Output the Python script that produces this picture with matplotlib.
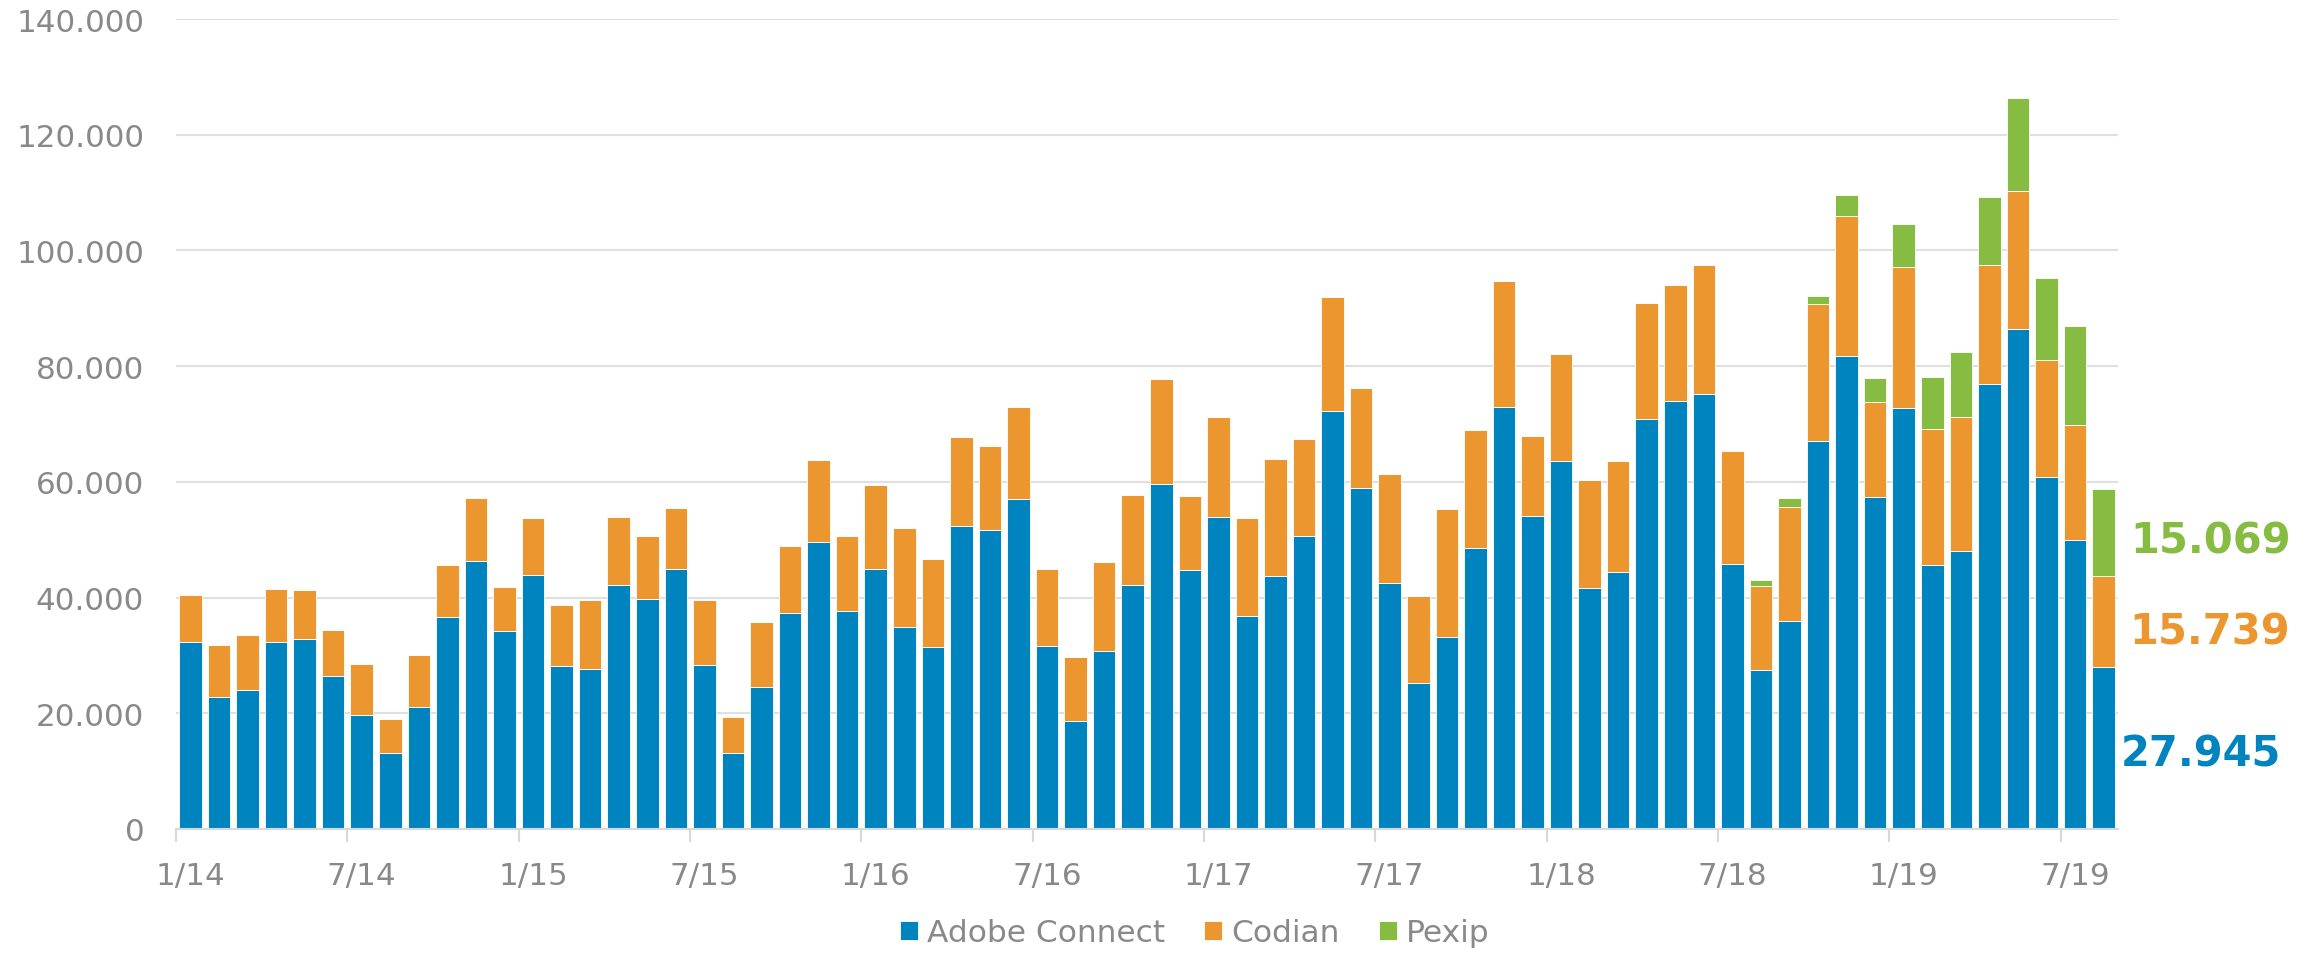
import matplotlib
matplotlib.use("Agg")
import matplotlib.pyplot as plt
import numpy as np
from matplotlib.ticker import FuncFormatter

# monatliche Nutzung 1/14 - 8/19 (Tausend)
adobe = [32.4, 22.8, 24.0, 32.4, 32.8, 26.4, 19.7, 13.2, 21.0, 36.6, 46.3, 34.3,
         43.9, 28.1, 27.7, 42.1, 39.7, 45.0, 28.3, 13.2, 24.5, 37.3, 49.6, 37.7,
         45.0, 34.9, 31.5, 52.4, 51.7, 57.1, 31.6, 18.6, 30.8, 42.1, 59.6, 44.8,
         54.0, 36.8, 43.8, 50.7, 72.2, 58.9, 42.6, 25.3, 33.1, 48.6, 72.9, 54.1,
         63.6, 41.7, 44.5, 70.9, 74.0, 75.2, 45.8, 27.5, 35.9, 67.1, 81.8, 57.3,
         72.8, 45.7, 48.1, 76.9, 86.5, 60.9, 49.9, 27.945]
codian = [8.1, 9.0, 9.6, 9.1, 8.5, 8.0, 8.9, 5.8, 9.0, 9.0, 10.9, 7.5,
          9.8, 10.7, 11.9, 11.8, 11.0, 10.4, 11.3, 6.2, 11.2, 11.6, 14.2, 12.9,
          14.5, 17.2, 15.1, 15.3, 14.5, 15.9, 13.3, 11.2, 15.4, 15.6, 18.2, 12.8,
          17.2, 16.9, 20.1, 16.7, 19.7, 17.3, 18.8, 15.0, 22.2, 20.3, 21.9, 13.9,
          18.5, 18.7, 19.1, 20.0, 20.1, 22.2, 19.5, 14.5, 19.8, 23.6, 24.1, 16.5,
          24.3, 23.5, 23.1, 20.6, 23.8, 20.2, 20.0, 15.739]
pexip = [0, 0, 0, 0, 0, 0, 0, 0, 0, 0, 0, 0,
         0, 0, 0, 0, 0, 0, 0, 0, 0, 0, 0, 0,
         0, 0, 0, 0, 0, 0, 0, 0, 0, 0, 0, 0,
         0, 0, 0, 0, 0, 0, 0, 0, 0, 0, 0, 0,
         0, 0, 0, 0, 0, 0, 0, 1.1, 1.5, 1.5, 3.6, 4.2,
         7.5, 8.9, 11.3, 11.8, 16.0, 14.2, 17.1, 15.069]
tick_labels = ["1/14", "7/14", "1/15", "7/15", "1/16", "7/16",
               "1/17", "7/17", "1/18", "7/18", "1/19", "7/19"]
series_names = ["Adobe Connect", "Codian", "Pexip"]

blue = "#0084BF"
orange = "#EB962F"
green = "#86BC41"
grey = "#898989"

a = np.array(adobe) * 1000
c = np.array(codian) * 1000
p = np.array(pexip) * 1000
x = np.arange(len(a))

fig = plt.figure(figsize=(23.23, 9.54), dpi=100)
ax = fig.add_axes([0.0758, 0.130, 0.8359, 0.849])

w = 0.79
ax.bar(x, a, w, color=blue, edgecolor="white", linewidth=0.6, label=series_names[0], zorder=3)
ax.bar(x, c, w, bottom=a, color=orange, edgecolor="white", linewidth=0.6, label=series_names[1], zorder=3)
ax.bar(x, p, w, bottom=a + c, color=green, edgecolor="white", linewidth=0.6, label=series_names[2], zorder=3)

ax.set_xlim(-0.5, len(a) - 0.5)
ax.set_ylim(0, 140000)
ax.set_yticks(np.arange(0, 140001, 20000))
ax.yaxis.set_major_formatter(FuncFormatter(lambda v, pos: f"{int(v):,}".replace(",", ".")))
ax.grid(axis="y", color="#e0e0e0", linewidth=1.5, zorder=0)
ax.set_axisbelow(True)

for s in ["top", "right", "left"]:
    ax.spines[s].set_visible(False)
ax.spines["bottom"].set_color("#d9d9d9")
ax.spines["bottom"].set_linewidth(1.5)
ax.spines["bottom"].set_zorder(4)

# Striche zwischen den Halbjahren, Beschriftung unter dem Monat
ax.set_xticks(np.arange(-0.5, len(a), 6))
ax.set_xticklabels([])
ax.set_xticks(np.arange(0, len(a), 6), minor=True)
ax.set_xticklabels(tick_labels, minor=True)
ax.tick_params(axis="x", which="major", length=9, width=1.5, color="#d9d9d9")
ax.tick_params(axis="x", which="minor", length=0, pad=23, labelsize=22.3, labelcolor=grey)
ax.tick_params(axis="y", length=0, pad=23, labelsize=22.3, labelcolor=grey)

# Werte des letzten Monats
ax.text(67.95, 49800, f"{pexip[-1]:.3f}", color=green, fontsize=30, fontweight="bold", va="center")
ax.text(67.9, 34200, f"{codian[-1]:.3f}", color=orange, fontsize=30, fontweight="bold", va="center")
ax.text(67.6, 13000, f"{adobe[-1]:.3f}", color=blue, fontsize=30, fontweight="bold", va="center")

leg = fig.legend(loc="center", bbox_to_anchor=(0.5144, 0.021), ncol=3, frameon=False,
                 prop={"family": "DejaVu Sans", "size": 22.5},
                 handlelength=0.575, handleheight=0.575, handletextpad=0.29, columnspacing=1.25)
for t in leg.get_texts():
    t.set_color(grey)

plt.savefig("out.png", dpi=100)
